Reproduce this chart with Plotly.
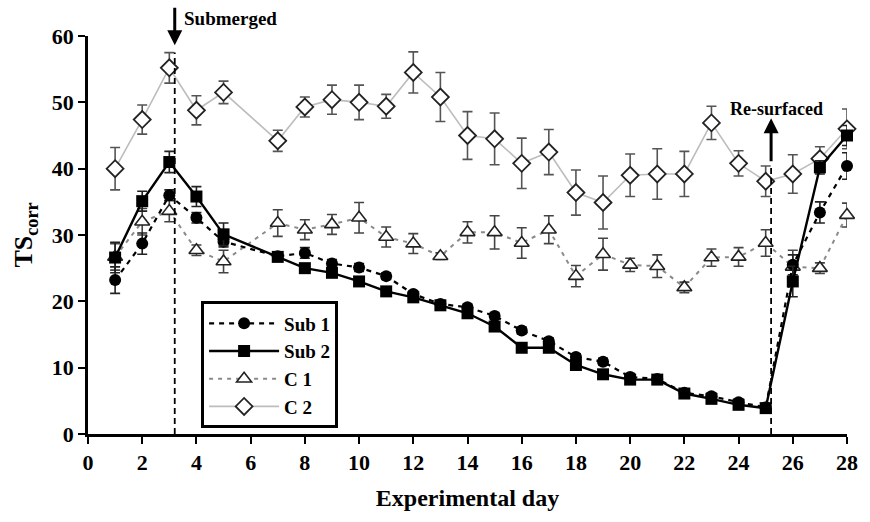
import plotly.graph_objects as go

# Experimental days with measurements (no sampling on day 6)
days = [1, 2, 3, 4, 5, 7, 8, 9, 10, 11, 12, 13, 14, 15, 16, 17, 18, 19, 20,
        21, 22, 23, 24, 25, 26, 27, 28]

sub1 = [23.2, 28.7, 36.0, 32.6, 29.0, 26.8, 27.3, 25.7, 25.1, 23.8, 21.1, 19.6,
        19.1, 17.8, 15.6, 14.0, 11.6, 10.9, 8.6, 8.3, 6.2, 5.7, 4.8, 4.0,
        25.5, 33.4, 40.4]
sub1_err = [2.0, 1.6, 0.8, 0.8, 0.8, 0.6, 0.8, 0.6, 0.6, 0.5, 0.5, 0.5,
            0.5, 0.5, 0.5, 0.5, 0.5, 0.5, 0.5, 0.5, 0.5, 0.5, 0.5, 0.5,
            1.5, 1.6, 2.0]

sub2 = [26.6, 35.1, 41.0, 35.8, 30.1, 26.7, 25.0, 24.3, 23.0, 21.5, 20.6, 19.4,
        18.2, 16.2, 13.0, 13.0, 10.4, 9.0, 8.2, 8.2, 6.1, 5.3, 4.4, 3.9,
        23.0, 40.2, 45.0]
sub2_err = [2.3, 1.5, 1.6, 1.5, 1.7, 0.5, 0.5, 0.5, 0.5, 0.5, 0.5, 0.5,
            0.5, 0.5, 0.5, 0.5, 0.5, 0.5, 0.5, 0.5, 0.5, 0.5, 0.5, 0.5,
            2.3, 1.0, 1.5]

c1 = [26.7, 32.0, 33.6, 27.7, 26.0, 31.8, 30.8, 31.6, 32.6, 29.7, 28.7, 26.8,
      30.4, 30.4, 28.8, 30.8, 23.8, 27.1, 25.5, 25.3, 22.1, 26.6, 26.7, 28.8,
      25.2, 25.0, 33.0]
c1_err = [2.0, 2.0, 1.6, 0.8, 1.7, 2.0, 1.5, 1.5, 2.3, 1.5, 1.5, 0.5,
          1.6, 2.5, 2.3, 2.1, 1.6, 2.4, 1.0, 1.7, 0.8, 1.3, 1.4, 2.0,
          2.5, 0.8, 1.8]

c2 = [40.0, 47.4, 55.2, 48.8, 51.5, 44.2, 49.3, 50.4, 50.0, 49.4, 54.5, 50.8,
      45.0, 44.5, 40.8, 42.5, 36.4, 34.9, 39.0, 39.2, 39.2, 46.9, 40.8, 38.1,
      39.2, 41.5, 46.0]
c2_err = [3.2, 2.2, 2.3, 2.2, 1.7, 1.6, 1.5, 2.2, 2.6, 1.8, 3.1, 3.7,
          3.6, 3.9, 3.8, 3.4, 3.4, 4.0, 3.2, 3.8, 3.4, 2.5, 1.9, 2.3,
          2.9, 1.8, 3.0]

x_ticks = list(range(0, 29, 2))
y_ticks = [0, 10, 20, 30, 40, 50, 60]
Y_MAX = 60

SUBMERGED_DAY = 3.2
RESURFACED_DAY = 25.2

SERIF = "Liberation Serif, Times New Roman, serif"

fig = go.Figure()


def err(values, color):
    return dict(type="data", array=values, visible=True, color=color,
                thickness=1.6, width=5)


fig.add_trace(go.Scatter(
    x=days, y=c2, name="C 2", mode="lines+markers", legendrank=4,
    line=dict(color="#bdbdbd", width=1.6),
    marker=dict(symbol="diamond", size=13, color="white",
                line=dict(color="#222", width=1.8)),
    error_y=err(c2_err, "#555"), cliponaxis=False))

fig.add_trace(go.Scatter(
    x=days, y=c1, name="C 1", mode="lines+markers", legendrank=3,
    line=dict(color="#8a8a8a", width=2, dash="4px,5px"),
    marker=dict(symbol="triangle-up", size=13, color="white",
                line=dict(color="#222", width=1.6)),
    error_y=err(c1_err, "#444"), cliponaxis=False))

fig.add_trace(go.Scatter(
    x=days, y=sub1, name="Sub 1", mode="lines+markers", legendrank=1,
    line=dict(color="black", width=2.2, dash="5px,5px"),
    marker=dict(symbol="circle", size=12, color="black"),
    error_y=err(sub1_err, "#222"), cliponaxis=False))

fig.add_trace(go.Scatter(
    x=days, y=sub2, name="Sub 2", mode="lines+markers", legendrank=2,
    line=dict(color="black", width=2.4),
    marker=dict(symbol="square", size=12, color="black"),
    error_y=err(sub2_err, "#222"), cliponaxis=False))

# event markers: dashed verticals with arrows and labels
fig.add_shape(type="line", x0=SUBMERGED_DAY, x1=SUBMERGED_DAY, y0=0, y1=57.5,
              line=dict(color="black", width=1.8, dash="6px,4px"))
fig.add_shape(type="line", x0=RESURFACED_DAY, x1=RESURFACED_DAY, y0=0, y1=40.5,
              line=dict(color="black", width=1.8, dash="6px,4px"))

fig.add_annotation(x=SUBMERGED_DAY, y=58.6, ax=SUBMERGED_DAY, ay=64.5,
                   xref="x", yref="y", axref="x", ayref="y",
                   text="", showarrow=True, arrowhead=2, arrowsize=1,
                   arrowwidth=3, arrowcolor="black")
fig.add_annotation(x=SUBMERGED_DAY + 0.25, y=62.7 / Y_MAX,
                   xref="x", yref="paper", yanchor="middle",
                   text="<b>Submerged</b>", showarrow=False, xanchor="left",
                   font=dict(family=SERIF, size=19, color="black"))

fig.add_annotation(x=RESURFACED_DAY, y=47.6, ax=RESURFACED_DAY, ay=40.9,
                   xref="x", yref="y", axref="x", ayref="y",
                   text="", showarrow=True, arrowhead=2, arrowsize=1,
                   arrowwidth=3, arrowcolor="black")
fig.add_annotation(x=RESURFACED_DAY - 1.6, y=49.0, xref="x", yref="y",
                   yanchor="middle",
                   text="<b>Re-surfaced</b>", showarrow=False, xanchor="left",
                   font=dict(family=SERIF, size=18, color="black"))

axis_font = dict(family=SERIF, size=22, color="black", weight="bold")

fig.update_layout(
    width=870, height=522,
    margin=dict(l=88, r=18, t=36, b=88),
    paper_bgcolor="white", plot_bgcolor="white",
    font=dict(family=SERIF, color="black"),
    showlegend=True,
    legend=dict(x=0.149, y=0.333, xanchor="left", yanchor="top",
                bgcolor="white", bordercolor="black", borderwidth=3,
                font=dict(family=SERIF, size=19, color="black", weight="bold"),
                tracegroupgap=0, itemwidth=70),
    xaxis=dict(range=[0, 28], tickvals=x_ticks,
               showline=True, linecolor="black", linewidth=2.5,
               ticks="outside", ticklen=7, tickwidth=2, tickcolor="black",
               showgrid=False, zeroline=False, tickfont=axis_font,
               title=dict(text="<b>Experimental day</b>",
                          font=dict(family=SERIF, size=24, color="black"),
                          standoff=16)),
    yaxis=dict(range=[0, Y_MAX], tickvals=y_ticks,
               showline=True, linecolor="black", linewidth=2.5,
               ticks="outside", ticklen=7, tickwidth=2, tickcolor="black",
               showgrid=False, zeroline=False, tickfont=axis_font,
               title=dict(text="<b>TS<sub>corr</sub></b>",
                          font=dict(family=SERIF, size=26, color="black"),
                          standoff=12)),
)

fig.write_html("out.html")
